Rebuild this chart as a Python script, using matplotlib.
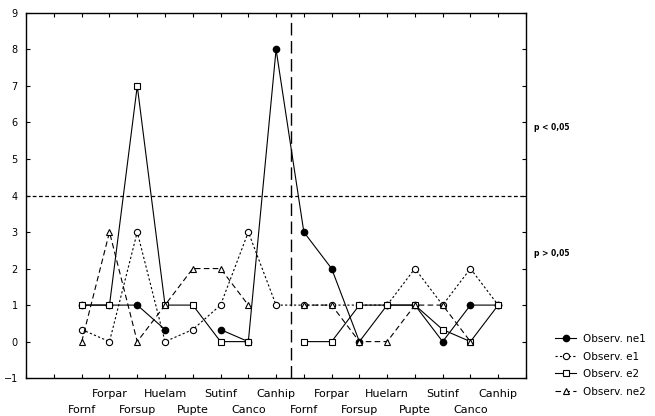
import numpy as np
import matplotlib
matplotlib.use('Agg')
import matplotlib.pyplot as plt

nan = np.nan

# two halves of the same set of locations
labels = ['Fornf', 'Forpar', 'Forsup', 'Huelam', 'Pupte', 'Sutinf', 'Canco', 'Canhip',
          'Fornf', 'Forpar', 'Forsup', 'Huelarn', 'Pupte', 'Sutinf', 'Canco', 'Canhip']

ne1 = [1, 1, 1, 0.33, nan, 0.33, 0, 8,
       3, 2, 0, 1, 1, 0, 1, 1]
e1 = [0.33, 0, 3, 0, 0.33, 1, 3, 1,
      1, 1, 1, 1, 2, 1, 2, 1]
e2 = [1, 1, 7, 1, 1, 0, 0, nan,
      0, 0, 1, 1, 1, 0.33, 0, 1]
ne2 = [0, 3, 0, 1, 2, 2, 1, nan,
       1, 1, 0, 0, 1, 1, 0, nan]

threshold = 4
split_x = 8.55

x = np.arange(1, len(labels) + 1)

fig = plt.figure(figsize=(6.55, 4.16), dpi=100)
ax = fig.add_axes([0.040, 0.091, 0.763, 0.878])

lw = 0.8
ms = 4.5
ax.plot(x, ne1, color='black', lw=lw, marker='o', ms=ms, mfc='black', mec='black',
        label='Observ. ne1', zorder=3)
ax.plot(x, e1, color='black', lw=lw, ls=(0, (2, 2)), marker='o', ms=ms, mfc='white',
        mec='black', mew=0.8, label='Observ. e1', zorder=3)
ax.plot(x, e2, color='black', lw=lw, marker='s', ms=ms, mfc='white', mec='black',
        mew=0.8, label='Observ. e2', zorder=4)
ax.plot(x, ne2, color='black', lw=lw, ls=(0, (5, 3)), marker='^', ms=ms, mfc='white',
        mec='black', mew=0.8, label='Observ. ne2', zorder=5)

ax.axhline(threshold, color='black', lw=0.9, ls=(0, (3, 2)), zorder=1)
ax.axvline(split_x, color='black', lw=1.0, ls=(0, (9, 4)), zorder=1)

ax.set_xlim(-1, 17)
ax.set_ylim(-1, 9)
ax.set_yticks(range(-1, 10))
ax.tick_params(axis='y', labelsize=7, direction='in', length=3, right=True, pad=6)

# category labels staggered on two rows
ax.set_xticks(range(-1, 18))
ax.set_xticklabels([])
ax.tick_params(axis='x', direction='in', length=3, top=True)
tr = ax.get_xaxis_transform()
for xi, lab in zip(x, labels):
    row_y = -0.043 if xi % 2 == 0 else -0.086
    ax.text(xi, row_y, lab, transform=tr, ha='center', va='center', fontsize=8)

for s in ax.spines.values():
    s.set_linewidth(1.0)

fig.text(0.815, 0.687, 'p < 0,05', fontsize=5.5, fontweight='bold')
fig.text(0.815, 0.385, 'p > 0,05', fontsize=5.5, fontweight='bold')

ax.legend(loc='upper left', bbox_to_anchor=(0.848, 0.197), bbox_transform=fig.transFigure,
          frameon=False, fontsize=7.5, handlelength=2.0, handletextpad=0.6,
          labelspacing=0.72, borderaxespad=0, borderpad=0)

fig.savefig('out.png', dpi=100)
